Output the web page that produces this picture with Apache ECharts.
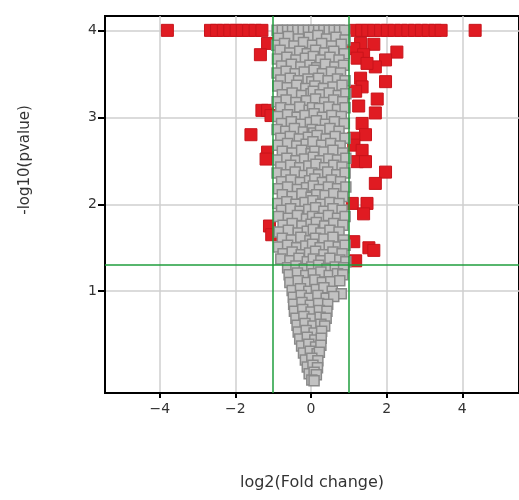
<!DOCTYPE html>
<html>
<head>
<meta charset="utf-8">
<script src="https://cdn.jsdelivr.net/npm/echarts@6/dist/echarts.min.js"></script>
<style>
  html, body { margin: 0; padding: 0; background: #fff; }
  #chart { width: 519px; height: 500px; }
</style>
</head>
<body>
<div id="chart"></div>
<script>
// Volcano plot: log2 fold change vs -log10(p-value)

// Axis ticks
const xTicks = [-4, -2, 0, 2, 4];
const yTicks = [1, 2, 3, 4];

// Significance thresholds
const foldThresholds = [-1, 1];
const pThreshold = 1.301; // -log10(0.05)

// Significant genes (|log2FC| > 1, p < 0.05)
const sigGenes = [
  [-3.8, 4], [-2.66, 4], [-2.5, 4], [-2.32, 4], [-2.15, 4], [-1.98, 4], [-1.82, 4], [-1.65, 4], [-1.48, 4], [-1.3, 4],
  [1.18, 4], [1.34, 4], [1.5, 4], [1.66, 4], [1.84, 4], [2.02, 4], [2.2, 4], [2.38, 4], [2.56, 4], [2.74, 4],
  [2.92, 4], [3.1, 4], [3.28, 4], [3.44, 4], [4.34, 4],
  [-1.15, 3.85], [-1.34, 3.72], [-1.3, 3.08], [-1.15, 3.08], [-1.06, 3.02], [-1.59, 2.8], [-1.15, 2.6],
  [-1.19, 2.52], [-1.1, 1.75], [-1.04, 1.65],
  [1.31, 3.85], [1.66, 3.84], [1.13, 3.79], [2.27, 3.75], [1.39, 3.72], [1.22, 3.68], [1.97, 3.66],
  [1.7, 3.58], [1.48, 3.62], [1.97, 3.41], [1.31, 3.45], [1.35, 3.35], [1.18, 3.3], [1.75, 3.21],
  [1.26, 3.13], [1.7, 3.05], [1.35, 2.93], [1.44, 2.8], [1.13, 2.76], [1.13, 2.68], [1.35, 2.62],
  [1.22, 2.49], [1.44, 2.49], [1.97, 2.37], [1.7, 2.24], [1.09, 2.01], [1.48, 2.01], [1.39, 1.89],
  [1.13, 1.57], [1.53, 1.5], [1.66, 1.47], [1.18, 1.35]
];

// Non-significant genes
const otherGenes = [
  [-0.9, 4], [-0.76, 4], [-0.62, 4], [-0.49, 4], [-0.35, 4], [-0.21, 4], [-0.07, 4], [0.07, 4], [0.2, 4], [0.34, 4], [0.48, 4], [0.61, 4], [0.75, 4], [0.89, 4],
  [-0.86, 3.91], [-0.6, 3.93], [-0.33, 3.9], [-0.05, 3.92], [0.18, 3.94], [0.41, 3.9], [0.66, 3.92], [0.9, 3.89],
  [-0.91, 3.83], [-0.7, 3.85], [-0.45, 3.82], [-0.2, 3.86], [0.04, 3.83], [0.28, 3.85], [0.55, 3.82], [0.8, 3.84],
  [-0.82, 3.77], [-0.56, 3.74], [-0.3, 3.76], [-0.1, 3.73], [0.12, 3.77], [0.36, 3.74], [0.6, 3.76], [0.88, 3.73],
  [-0.89, 3.67], [-0.64, 3.69], [-0.4, 3.66], [-0.15, 3.68], [0.06, 3.7], [0.26, 3.66], [0.5, 3.69], [0.74, 3.66],
  [-0.78, 3.59], [-0.52, 3.61], [-0.27, 3.58], [-0.03, 3.6], [0.15, 3.57], [0.38, 3.61], [0.63, 3.58], [0.86, 3.6],
  [-0.9, 3.51], [-0.66, 3.53], [-0.42, 3.5], [-0.18, 3.52], [0.08, 3.54], [0.3, 3.5], [0.54, 3.52], [0.78, 3.51],
  [-0.8, 3.43], [-0.55, 3.45], [-0.33, 3.42], [-0.08, 3.44], [0.02, 3.41], [0.2, 3.45], [0.45, 3.42], [0.7, 3.44], [0.9, 3.42],
  [-0.88, 3.36], [-0.63, 3.34], [-0.38, 3.37], [-0.14, 3.33], [0.1, 3.36], [0.33, 3.33], [0.58, 3.35], [0.82, 3.37],
  [-0.76, 3.26], [-0.5, 3.28], [-0.25, 3.25], [0.0, 3.27], [0.06, 3.3], [0.24, 3.26], [0.48, 3.28], [0.72, 3.25], [0.92, 3.27],
  [-0.9, 3.18], [-0.66, 3.2], [-0.4, 3.17], [-0.12, 3.19], [0.12, 3.21], [0.36, 3.17], [0.6, 3.2], [0.84, 3.18],
  [-0.8, 3.11], [-0.56, 3.09], [-0.3, 3.12], [-0.05, 3.08], [0.04, 3.11], [0.22, 3.1], [0.47, 3.12], [0.7, 3.09], [0.9, 3.11],
  [-0.88, 3.01], [-0.62, 3.03], [-0.37, 3.0], [-0.16, 3.02], [0.08, 3.04], [0.3, 3.0], [0.55, 3.02], [0.8, 3.01],
  [-0.78, 2.93], [-0.52, 2.95], [-0.26, 2.92], [-0.02, 2.94], [0.14, 2.96], [0.38, 2.92], [0.62, 2.95], [0.88, 2.93],
  [-0.9, 2.86], [-0.67, 2.84], [-0.44, 2.87], [-0.2, 2.83], [0.03, 2.86], [0.07, 2.82], [0.25, 2.85], [0.5, 2.87], [0.74, 2.84],
  [-0.8, 2.76], [-0.55, 2.78], [-0.31, 2.75], [-0.07, 2.77], [0.16, 2.79], [0.4, 2.75], [0.64, 2.78], [0.9, 2.76],
  [-0.87, 2.68], [-0.62, 2.7], [-0.38, 2.67], [-0.13, 2.69], [0.05, 2.72], [0.28, 2.68], [0.52, 2.7], [0.77, 2.67],
  [-0.76, 2.61], [-0.5, 2.59], [-0.25, 2.62], [0.0, 2.58], [0.1, 2.61], [0.34, 2.6], [0.58, 2.62], [0.84, 2.59],
  [-0.88, 2.51], [-0.64, 2.53], [-0.4, 2.5], [-0.17, 2.52], [0.06, 2.54], [0.24, 2.5], [0.47, 2.52], [0.7, 2.51], [0.92, 2.53],
  [-0.8, 2.43], [-0.54, 2.45], [-0.3, 2.42], [-0.06, 2.44], [0.13, 2.46], [0.36, 2.42], [0.6, 2.45], [0.82, 2.43],
  [-0.9, 2.36], [-0.66, 2.34], [-0.42, 2.37], [-0.18, 2.33], [0.02, 2.36], [0.2, 2.34], [0.44, 2.37], [0.68, 2.34], [0.9, 2.36],
  [-0.78, 2.26], [-0.53, 2.28], [-0.28, 2.25], [-0.04, 2.27], [0.1, 2.29], [0.3, 2.25], [0.54, 2.28], [0.78, 2.26],
  [-0.86, 2.18], [-0.62, 2.2], [-0.36, 2.17], [-0.12, 2.19], [0.06, 2.21], [0.22, 2.17], [0.46, 2.2], [0.7, 2.18], [0.92, 2.2],
  [-0.76, 2.11], [-0.5, 2.09], [-0.24, 2.12], [0.0, 2.08], [0.15, 2.11], [0.37, 2.1], [0.6, 2.12], [0.84, 2.09],
  [-0.88, 2.01], [-0.64, 2.03], [-0.4, 2.0], [-0.16, 2.02], [0.05, 2.04], [0.26, 2.0], [0.5, 2.02], [0.74, 2.01],
  [-0.78, 1.93], [-0.54, 1.95], [-0.29, 1.92], [-0.06, 1.94], [0.12, 1.96], [0.34, 1.92], [0.58, 1.95], [0.82, 1.93],
  [-0.86, 1.86], [-0.6, 1.84], [-0.36, 1.87], [-0.12, 1.83], [0.04, 1.86], [0.22, 1.84], [0.46, 1.87], [0.7, 1.84], [0.9, 1.86],
  [-0.74, 1.76], [-0.5, 1.78], [-0.24, 1.75], [0.0, 1.77], [0.14, 1.79], [0.36, 1.75], [0.6, 1.78], [0.84, 1.76],
  [-0.84, 1.68], [-0.6, 1.7], [-0.34, 1.67], [-0.1, 1.69], [0.06, 1.71], [0.26, 1.67], [0.5, 1.7], [0.74, 1.68],
  [-0.76, 1.61], [-0.52, 1.59], [-0.27, 1.62], [-0.03, 1.58], [0.12, 1.61], [0.34, 1.6], [0.58, 1.62], [0.86, 1.59],
  [-0.86, 1.51], [-0.62, 1.53], [-0.38, 1.5], [-0.14, 1.52], [0.04, 1.54], [0.24, 1.5], [0.48, 1.52], [0.72, 1.51], [0.9, 1.53],
  [-0.74, 1.43], [-0.5, 1.45], [-0.26, 1.42], [-0.04, 1.44], [0.12, 1.46], [0.34, 1.42], [0.58, 1.45], [0.82, 1.43],
  [-0.8, 1.37], [-0.56, 1.35], [-0.32, 1.38], [-0.1, 1.34], [0.06, 1.37], [0.26, 1.35], [0.5, 1.38], [0.76, 1.36], [0.92, 1.34],
  [-0.62, 1.27], [-0.4, 1.29], [-0.18, 1.26], [0.02, 1.28], [0.2, 1.3], [0.42, 1.26], [0.64, 1.28], [0.86, 1.27],
  [-0.58, 1.19], [-0.36, 1.21], [-0.14, 1.18], [0.06, 1.2], [0.26, 1.22], [0.48, 1.18], [0.7, 1.2], [0.84, 1.19],
  [-0.56, 1.1], [-0.34, 1.12], [-0.1, 1.1], [0.1, 1.13], [0.3, 1.1], [0.52, 1.11], [0.76, 1.12],
  [-0.5, 1.01], [-0.28, 1.03], [-0.06, 1.0], [0.14, 1.02], [0.34, 1.04], [0.56, 1.0], [0.8, 0.97],
  [-0.47, 0.93], [-0.26, 0.95], [-0.04, 0.92], [0.18, 0.95], [0.4, 0.92], [0.6, 0.94],
  [-0.46, 0.85], [-0.24, 0.87], [-0.02, 0.84], [0.2, 0.86], [0.44, 0.85],
  [-0.44, 0.77], [-0.22, 0.79], [0.0, 0.76], [0.22, 0.78], [0.42, 0.77],
  [-0.4, 0.69], [-0.19, 0.71], [0.03, 0.68], [0.24, 0.7], [0.4, 0.69],
  [-0.37, 0.61], [-0.16, 0.63], [0.05, 0.6], [0.26, 0.62], [0.36, 0.6],
  [-0.34, 0.53], [-0.13, 0.55], [0.08, 0.52], [0.28, 0.54],
  [-0.3, 0.45], [-0.1, 0.47], [0.1, 0.44], [0.27, 0.46],
  [-0.25, 0.37], [-0.06, 0.39], [0.12, 0.36], [0.26, 0.38],
  [-0.2, 0.29], [-0.02, 0.31], [0.16, 0.28], [0.22, 0.3],
  [-0.15, 0.21], [0.02, 0.23], [0.18, 0.2],
  [-0.1, 0.13], [0.05, 0.15], [0.17, 0.12],
  [-0.05, 0.05], [0.08, 0.07], [0.14, 0.04],
  [0.02, -0.02], [0.08, -0.03]
];

const FONT = 'DejaVu Sans';
const minus = v => String(v).replace('-', '\u2212');

const chart = echarts.init(document.getElementById('chart'), null, { renderer: 'canvas' });

chart.setOption({
  animation: false,
  backgroundColor: '#ffffff',
  grid: {
    // the right edge runs just past the canvas, so only three sides show
    left: 105, top: 16, right: -3, bottom: 107,
    show: true, borderColor: '#000', borderWidth: 2, backgroundColor: 'transparent'
  },
  xAxis: {
    type: 'value',
    min: -5.45, max: 5.5,
    name: 'log2(Fold change)',
    nameLocation: 'middle',
    nameGap: 82,
    nameTextStyle: { fontFamily: FONT, fontSize: 16, color: '#333' },
    axisLine: { show: true, onZero: false, lineStyle: { color: '#000', width: 2 } },
    axisTick: { show: true, length: 5, customValues: xTicks, lineStyle: { color: '#000', width: 2 } },
    axisLabel: { customValues: xTicks, formatter: minus, fontFamily: FONT, fontSize: 14, color: '#333', margin: 9 },
    splitLine: { show: true, lineStyle: { color: '#cfcfcf', width: 1.5 } }
  },
  yAxis: {
    type: 'value',
    min: -0.17, max: 4.165,
    axisLine: { show: true, onZero: false, lineStyle: { color: '#000', width: 2 } },
    axisTick: { show: true, length: 7, customValues: yTicks, lineStyle: { color: '#000', width: 2 } },
    axisLabel: { customValues: yTicks, fontFamily: FONT, fontSize: 14, color: '#333', margin: 8 },
    splitLine: { show: true, lineStyle: { color: '#cfcfcf', width: 1.5 } }
  },
  graphic: [{
    type: 'text',
    x: 25, y: 160,
    rotation: Math.PI / 2,
    style: {
      text: '-log10(pvalue)',
      font: '15px "DejaVu Sans"',
      fill: '#333',
      align: 'center',
      verticalAlign: 'middle'
    }
  }],
  series: [
    {
      type: 'scatter',
      data: sigGenes,
      symbol: 'rect',
      symbolSize: 12,
      itemStyle: { color: '#e01b22', borderColor: '#c8141b', borderWidth: 1, opacity: 1 },
      silent: true
    },
    {
      type: 'scatter',
      data: otherGenes,
      symbol: 'rect',
      symbolSize: 10,
      itemStyle: { color: '#c2c2c2', borderColor: '#8a8a8a', borderWidth: 1.5, opacity: 1 },
      silent: true
    },
    {
      type: 'scatter',
      data: [],
      silent: true,
      markLine: {
        silent: true,
        symbol: ['none', 'none'],
        label: { show: false },
        lineStyle: { color: '#1f9e3c', width: 1.5, type: 'solid' },
        data: [
          { xAxis: foldThresholds[0] },
          { xAxis: foldThresholds[1] },
          { yAxis: pThreshold }
        ]
      }
    }
  ]
});
</script>
</body>
</html>
